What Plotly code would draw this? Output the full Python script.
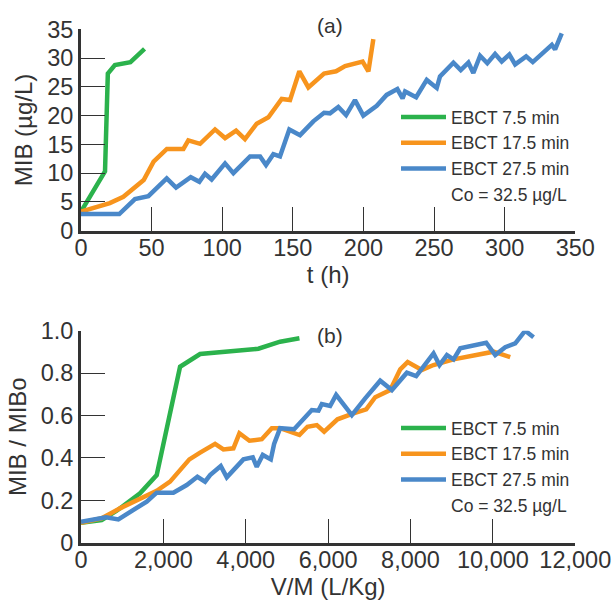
import plotly.graph_objects as go

# ---------- Panel (a): MIB vs time ----------
t_green = [0, 17, 19, 24, 35, 45]
mib_green = [3.3, 10.3, 27.3, 28.8, 29.3, 31.6]

t_orange = [0, 20.4, 30, 44.4, 51.4, 60.8, 72.5, 76, 84.3, 91.4, 94.9, 102, 109.8, 116.1,
            124.4, 132.7, 142.1, 148, 154.6, 161, 172.1, 180.6, 187, 199.4, 203.5, 207]
mib_orange = [3.3, 4.8, 5.9, 8.8, 12.0, 14.2, 14.2, 15.7, 15.1, 16.9, 17.6, 16.1, 17.4, 15.9,
              18.6, 19.7, 22.9, 22.7, 27.7, 24.9, 27.3, 27.7, 28.6, 29.4, 27.7, 33.3]

t_blue = [0, 27.1, 38.2, 47.7, 60.7, 67.3, 77.7, 83.8, 87.8, 92.5, 102, 107.9, 119.7, 126.8,
          131, 136.2, 140.9, 147.5, 155.1, 164.5, 172.1, 176.3, 182.2, 187.7, 194, 199.9,
          209.4, 216.4, 224, 227.7, 229.5, 237.3, 244.8, 251.9, 254.2, 263.7, 268.9, 274.3,
          277.8, 282.6, 287.7, 293.2, 297.9, 303.3, 307.4, 315.2, 319.9, 328.6, 333.4, 335.7, 340.4]
mib_blue = [2.9, 2.9, 5.5, 6.0, 9.1, 7.5, 9.3, 8.5, 9.9, 8.9, 11.7, 10.0, 12.9, 12.9,
            11.4, 13.3, 12.9, 17.6, 16.6, 19.0, 20.5, 20.4, 21.5, 20.1, 22.7, 20.0,
            21.7, 23.6, 24.6, 23.0, 24.2, 23.2, 26.2, 24.8, 26.8, 29.2, 27.9, 29.2,
            27.4, 30.4, 29.1, 30.7, 29.4, 30.6, 28.9, 30.3, 29.3, 31.4, 32.3, 31.5, 34.3]

# ---------- Panel (b): MIB/MIBo vs V/M ----------
vm_green = [0, 502, 867, 1433, 1838, 2405, 2891, 3700, 4307, 4834, 5303]
r_green = [0.094, 0.107, 0.151, 0.233, 0.319, 0.830, 0.890, 0.906, 0.915, 0.948, 0.964]

vm_orange = [0, 502, 947, 1433, 1838, 2162, 2631, 2891, 3255, 3457, 3700, 3846, 4089, 4389,
             4632, 4834, 5077, 5303, 5497, 5725, 5903, 6227, 6616, 6924, 7143, 7508, 7750,
             7930, 8275, 8558, 9044, 9611, 10015, 10420]
r_orange = [0.094, 0.115, 0.162, 0.209, 0.245, 0.288, 0.393, 0.425, 0.466, 0.440, 0.445, 0.516,
            0.481, 0.488, 0.540, 0.540, 0.524, 0.508, 0.547, 0.555, 0.524, 0.582, 0.610, 0.629,
            0.686, 0.720, 0.818, 0.852, 0.815, 0.838, 0.865, 0.885, 0.901, 0.875]

vm_blue = [0, 607, 907, 1271, 1595, 1838, 2243, 2567, 2826, 3012, 3134, 3393, 3539, 3943,
           4170, 4267, 4413, 4608, 4688, 4834, 5174, 5603, 5765, 5846, 6048, 6194, 6575,
           6899, 7264, 7547, 7911, 8137, 8558, 8704, 8883, 9044, 9206, 9837, 10056, 10299,
           10542, 10785, 10987]
r_blue = [0.099, 0.120, 0.110, 0.154, 0.194, 0.236, 0.236, 0.272, 0.311, 0.288, 0.319, 0.362,
          0.308, 0.393, 0.403, 0.358, 0.414, 0.393, 0.466, 0.540, 0.535, 0.626, 0.623, 0.654,
          0.645, 0.697, 0.602, 0.681, 0.764, 0.720, 0.802, 0.786, 0.893, 0.838, 0.885, 0.865,
          0.917, 0.943, 0.885, 0.922, 0.940, 1.000, 0.969]

series_names = ["EBCT 7.5 min", "EBCT 17.5 min", "EBCT 27.5 min"]
note_text = "Co = 32.5 µg/L"
colors = ["#2bb24c", "#f7941d", "#4a88c9"]

NARROW = "Liberation Sans Narrow, Arial Narrow, Liberation Sans, sans-serif"
FONT = "Liberation Sans, Arial, sans-serif"
TXT = "#333333"
LW = 4.5

fig = go.Figure()

top = [(t_green, mib_green), (t_orange, mib_orange), (t_blue, mib_blue)]
bot = [(vm_green, r_green), (vm_orange, r_orange), (vm_blue, r_blue)]

for i, (x, y) in enumerate(top):
    fig.add_trace(go.Scatter(x=x, y=y, mode="lines", name=series_names[i],
                             line=dict(color=colors[i], width=LW),
                             xaxis="x", yaxis="y", legend="legend"))
fig.add_trace(go.Scatter(x=[None], y=[None], mode="lines", name=note_text,
                         line=dict(color="rgba(0,0,0,0)", width=LW),
                         xaxis="x", yaxis="y", legend="legend"))

for i, (x, y) in enumerate(bot):
    fig.add_trace(go.Scatter(x=x, y=y, mode="lines", name=series_names[i],
                             line=dict(color=colors[i], width=LW),
                             xaxis="x2", yaxis="y2", legend="legend2"))
fig.add_trace(go.Scatter(x=[None], y=[None], mode="lines", name=note_text,
                         line=dict(color="rgba(0,0,0,0)", width=LW),
                         xaxis="x2", yaxis="y2", legend="legend2"))

axis_common = dict(showgrid=False, zeroline=False, showline=True, linecolor="#333333",
                   linewidth=3, ticks="inside", ticklen=24, tickwidth=1.3,
                   tickcolor="#333333", automargin=False, ticklabeloverflow="allow",
                   tickfont=dict(size=23.5, color=TXT, family=NARROW),
                   title_font=dict(size=24, color=TXT, family=NARROW))

xdom = [81 / 612, 575.3 / 612]

leg_common = dict(xanchor="left", yanchor="top", bgcolor="rgba(0,0,0,0)",
                  font=dict(size=17.5, color=TXT, family=FONT),
                  itemwidth=45, tracegroupgap=0)

fig.update_layout(
    width=612, height=603,
    margin=dict(l=0, r=0, t=0, b=0),
    paper_bgcolor="white", plot_bgcolor="white",
    font=dict(family=FONT, color=TXT),
    xaxis=dict(domain=xdom, range=[0, 350], tickvals=[0, 50, 100, 150, 200, 250, 300, 350],
               ticklabelstandoff=-6,
               title=dict(text="t (h)", standoff=7), anchor="y", **axis_common),
    yaxis=dict(domain=[(603 - 230.7) / 603, (603 - 29.3) / 603], range=[0, 35],
               tickvals=[0, 5, 10, 15, 20, 25, 30, 35],
               title=dict(text="MIB (µg/L)", standoff=8), anchor="x", **axis_common),
    xaxis2=dict(domain=xdom, range=[0, 12000],
                tickvals=[0, 2000, 4000, 6000, 8000, 10000, 12000],
                ticktext=["0", "2,000", "4,000", "6,000", "8,000", "10,000", "12,000"],
                ticklabelstandoff=-6,
                title=dict(text="V/M (L/Kg)", standoff=7), anchor="y2", **axis_common),
    yaxis2=dict(domain=[(603 - 542.7) / 603, (603 - 330.7) / 603], range=[0, 1],
                tickvals=[0, 0.2, 0.4, 0.6, 0.8, 1.0],
                ticktext=["0", "0.2", "0.4", "0.6", "0.8", "1.0"],
                title=dict(text="MIB / MIBo", standoff=8), anchor="x2", **axis_common),
    legend=dict(x=396 / 612, y=(603 - 99) / 603, **leg_common),
    legend2=dict(x=396 / 612, y=(603 - 410) / 603, **leg_common),
    annotations=[
        dict(text="(a)", x=330 / 612, y=(603 - 25.5) / 603, xref="paper", yref="paper",
             xanchor="center", yanchor="middle",
             showarrow=False, font=dict(size=21, color=TXT, family=FONT)),
        dict(text="(b)", x=330 / 612, y=(603 - 335) / 603, xref="paper", yref="paper",
             xanchor="center", yanchor="middle",
             showarrow=False, font=dict(size=21, color=TXT, family=FONT)),
    ],
    showlegend=True,
)

fig.write_html("out.html", config={"displayModeBar": False},
               post_script="document.body.style.margin='0px';")
